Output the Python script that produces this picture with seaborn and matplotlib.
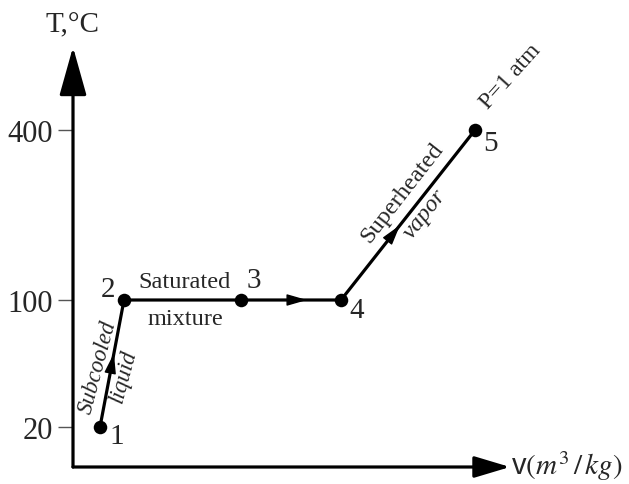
import numpy as np
import pandas as pd
import matplotlib
matplotlib.use("Agg")
import matplotlib.pyplot as plt
import seaborn as sns

# State points of water heated at constant pressure (specific volume is schematic)
states = ["1", "2", "3", "4", "5"]
v_schematic = [0.27, 0.51, 1.68, 2.68, 4.02]
temps_c = [20, 100, 100, 100, 400]
t_ticks = [20, 100, 400]

# The temperature axis is stretched piecewise (the diagram is not to scale)
t_knots = [-100, 20, 100, 400, 1000]
h_knots = [-150.5, 40, 167, 337, 677]

# Direction arrows: (segment start index, fraction along the segment)
flow_arrows = [(0, 0.58), (2, 0.66), (3, 0.44)]

# Offsets (points) of the state numbers from their markers
label_offsets = [(12, -6.5), (-11.5, 8), (9.5, 14.5), (11.5, -7), (11.5, -9.5)]

sns.set_theme(style="white")
plt.rcParams["font.family"] = ["Liberation Serif", "DejaVu Serif"]
plt.rcParams["mathtext.fontset"] = "stix"

df = pd.DataFrame({"state": states, "v": v_schematic, "temp": temps_c})


def fwd(t):
    return np.interp(t, t_knots, h_knots)


def inv(h):
    return np.interp(h, h_knots, t_knots)


fig = plt.figure(figsize=(6.29, 4.85), dpi=100)
ax = fig.add_axes([73 / 629, 17 / 485, 437 / 629, 420 / 485])
ax.set_yscale("function", functions=(fwd, inv))
ax.set_xlim(0, 4.37)
ax.set_ylim(inv(0), inv(420))

# Process path and state points
sns.lineplot(data=df, x="v", y="temp", sort=False, estimator=None,
             color="black", lw=2.3, ax=ax)
sns.scatterplot(data=df, x="v", y="temp", color="black", s=95,
                linewidth=0, zorder=5, ax=ax)

# Flow direction markers along the path
for i, f in flow_arrows:
    x0, x1 = v_schematic[i], v_schematic[i + 1]
    y0, y1 = temps_c[i], temps_c[i + 1]
    tip = (x0 + f * (x1 - x0), y0 + f * (y1 - y0))
    tail = (x0 + (f - 0.08) * (x1 - x0), y0 + (f - 0.08) * (y1 - y0))
    ax.annotate("", xy=tip, xytext=tail,
                arrowprops=dict(arrowstyle="-|>,head_length=1.25,head_width=0.36",
                                mutation_scale=10, color="black", lw=1,
                                shrinkA=0, shrinkB=0))

# State numbers
for (s, x, y), (dx, dy) in zip(zip(states, v_schematic, temps_c), label_offsets):
    ax.annotate(s, xy=(x, y), xytext=(dx, dy), textcoords="offset points",
                ha="center", va="center", fontsize=21)

# Axes drawn as arrows
for end, hl, hw in [((0, 1), 1.5, 0.42), ((1, 0), 1.1, 0.33)]:
    ax.annotate("", xy=end, xytext=(0, 0), xycoords="axes fraction",
                annotation_clip=False,
                arrowprops=dict(arrowstyle=f"-|>,head_length={hl},head_width={hw}",
                                mutation_scale=20, color="black", lw=2.3,
                                shrinkA=0, shrinkB=0))
for sp in ax.spines.values():
    sp.set_visible(False)

ax.set_xticks([])
ax.set_yticks(t_ticks)
ax.set_yticklabels([str(t) for t in t_ticks])
ax.tick_params(axis="y", left=True, length=10.8, width=1, color="#555555",
               pad=3.5, labelsize=22)
ax.set_xlabel("")
ax.set_ylabel("")

# Axis titles
fig.text(72 / 629, 1 - 25 / 485, "T,°C", ha="center", va="center", fontsize=21)
fig.text(511 / 629, 1 - 466 / 485, r"v$(m^3\,/\,kg)$", ha="left", va="center",
         fontsize=21, family="Liberation Sans")


# Region names
def px_text(x, y, s, **kw):
    fig.text(x / 629, 1 - y / 485, s, ha="center", va="center",
             rotation_mode="anchor", **kw)


px_text(185, 283, "Saturated", fontsize=17.5)
px_text(185, 320, "mixture", fontsize=17.5)
px_text(98, 367, "Subcooled", fontsize=16.5, style="italic", rotation=75)
px_text(124, 376, "liquid", fontsize=16.5, style="italic", rotation=75)
px_text(402, 193, "Superheated", fontsize=17.5, rotation=52)
px_text(425, 214, "vapor", fontsize=17.5, style="italic", rotation=52)
px_text(511, 77, "P=1 atm", fontsize=17, rotation=48)

fig.savefig("out.png", dpi=100)
